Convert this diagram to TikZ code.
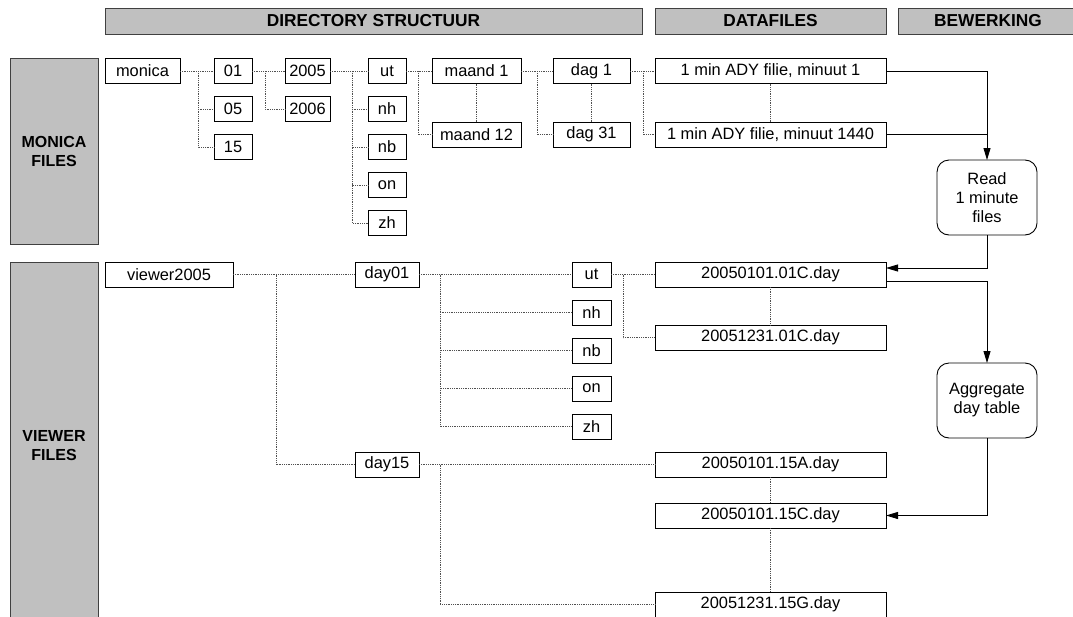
\documentclass[tikz,border=0pt]{standalone}
\usepackage{fontspec}
\setmainfont{Liberation Sans}
\usetikzlibrary{arrows.meta,positioning}
\definecolor{barfill}{RGB}{192,192,192}
\definecolor{barline}{RGB}{64,64,64}
\definecolor{treeline}{RGB}{80,80,80}

\begin{document}
\begin{tikzpicture}[x=1pt, y=-1pt,
  node distance=13pt,
  box/.style={draw, line width=0.9pt, fill=white, font=\fontsize{16.4}{19}\selectfont,
              minimum height=25pt, inner sep=1pt, outer sep=0pt},
  file/.style={box, minimum width=231pt},
  bar/.style={draw=barline, fill=barfill, line width=1pt, align=center,
              font=\bfseries\fontsize{16}{19}\selectfont, inner sep=0pt, outer sep=0pt},
  head/.style={bar, minimum height=26pt, font=\bfseries\fontsize{17.3}{19}\selectfont},
  proc/.style={box, rounded corners=12pt, minimum width=100pt, minimum height=75pt, align=center},
  tree/.style={densely dotted, line width=0.8pt, treeline},
  link/.style={line width=0.9pt},
  arr/.style={link, -{Triangle[length=12pt, width=7pt]}}]
\useasboundingbox (0,0) rectangle (1073,616);
\clip (0,0) rectangle (1073,616);
\node[head, minimum width=537pt] (hdir) at (373.5,21) {DIRECTORY STRUCTUUR};
\node[head, minimum width=231pt] (hdat) at (770.5,21) {DATAFILES};
\node[head, minimum width=180pt] (hbew) at (988,21) {BEWERKING};
\node[bar, minimum width=88pt, minimum height=186pt] (monbar) at (54,151) {MONICA\\FILES};
\node[bar, minimum width=88pt, minimum height=368pt] (viewbar) at (54,446) {VIEWER\\FILES};
\node[box, minimum width=75pt] (monica) at (142.5,71) {monica};
\node[box, minimum width=38pt] (m01) at (233,71) {01};
\node[box, minimum width=38pt, below=of m01] (m05) {05};
\node[box, minimum width=38pt, below=of m05] (m15) {15};
\node[box, minimum width=45pt] (y2005) at (307.5,71) {2005};
\node[box, minimum width=45pt, below=of y2005] (y2006) {2006};
\node[box, minimum width=38pt] (mut) at (387,71) {ut};
\node[box, minimum width=38pt, below=of mut] (mnh) {nh};
\node[box, minimum width=38pt, below=of mnh] (mnb) {nb};
\node[box, minimum width=38pt, below=of mnb] (mon) {on};
\node[box, minimum width=38pt, below=of mon] (mzh) {zh};
\node[box, minimum width=89pt] (maand1) at (476.5,71) {maand 1};
\node[box, minimum width=89pt, below=38.5pt of maand1] (maand12) {maand 12};
\node[box, minimum width=77pt] (dag1) at (591.5,71) {dag 1};
\node[box, minimum width=77pt, below=38.5pt of dag1] (dag31) {dag 31};
\node[file] (ady1) at (770.5,71) {1 min ADY filie, minuut 1};
\node[file, below=38.5pt of ady1] (ady1440) {1 min ADY filie, minuut 1440};
\node[proc] (read) at (987,197.5) {Read\\1 minute\\files};
\node[box, minimum width=128pt] (viewer) at (169,274.5) {viewer2005};
\node[box, minimum width=64pt] (day01) at (387,274.5) {day01};
\node[box, minimum width=64pt] (day15) at (387,464.5) {day15};
\node[box, minimum width=39pt] (vut) at (591.5,274.5) {ut};
\node[box, minimum width=39pt, below=of vut] (vnh) {nh};
\node[box, minimum width=39pt, below=of vnh] (vnb) {nb};
\node[box, minimum width=39pt, below=of vnb] (von) {on};
\node[box, minimum width=39pt, below=of von] (vzh) {zh};
\node[file] (f01a) at (770.5,274.5) {20050101.01C.day};
\node[file, below=38pt of f01a] (f01b) {20051231.01C.day};
\node[proc] (agg) at (987,400.5) {Aggregate\\day table};
\node[file] (f15a) at (770.5,464.5) {20050101.15A.day};
\node[file, below=26pt of f15a] (f15c) {20050101.15C.day};
\node[file, below=64pt of f15c] (f15g) {20051231.15G.day};
\draw[tree] (monica.east) -- (m01.west);
\draw[tree] ([xshift=18pt]monica.east) |- (m05.west);
\draw[tree] ([xshift=18pt]monica.east) |- (m15.west);
\draw[tree] (m01.east) -- (y2005.west);
\draw[tree] ([xshift=13pt]m01.east) |- (y2006.west);
\draw[tree] (y2005.east) -- (mut.west);
\foreach \t in {mnh,mnb,mon,mzh}
  \draw[tree] ([xshift=22pt]y2005.east) |- (\t.west);
\draw[tree] (mut.east) -- (maand1.west);
\draw[tree] ([xshift=12pt]mut.east) |- (maand12.west);
\draw[tree] (maand1) -- (maand12);
\draw[tree] (maand1.east) -- (dag1.west);
\draw[tree] ([xshift=16pt]maand1.east) |- (dag31.west);
\draw[tree] (dag1) -- (dag31);
\draw[tree] (dag1.east) -- (ady1.west);
\draw[tree] ([xshift=13pt]dag1.east) |- (ady1440.west);
\draw[tree] (ady1) -- (ady1440);
\draw[tree] (viewer.east) -- (day01.west);
\draw[tree] ([xshift=43pt]viewer.east) |- (day15.west);
\draw[tree] (day01.east) -- (vut.west);
\foreach \t in {vnh,vnb,von,vzh}
  \draw[tree] ([xshift=21pt]day01.east) |- (\t.west);
\draw[tree] (vut.east) -- (f01a.west);
\draw[tree] ([xshift=12pt]vut.east) |- (f01b.west);
\draw[tree] (f01a) -- (f01b);
\draw[tree] (day15.east) -- (f15a.west);
\draw[tree] ([xshift=21pt]day15.east) |- (f15g.west);
\draw[tree] (f15a) -- (f15c);
\draw[tree] (f15c) -- (f15g);
\draw[arr] (ady1.east) -| (read.north);
\draw[link] (ady1440.east) -- (ady1440.east -| read.north);
\draw[arr] (read.south) |- ([yshift=6.5pt]f01a.east);
\draw[arr] ([yshift=-6.5pt]f01a.east) -| (agg.north);
\draw[arr] (agg.south) |- (f15c.east);
\end{tikzpicture}
\end{document}
